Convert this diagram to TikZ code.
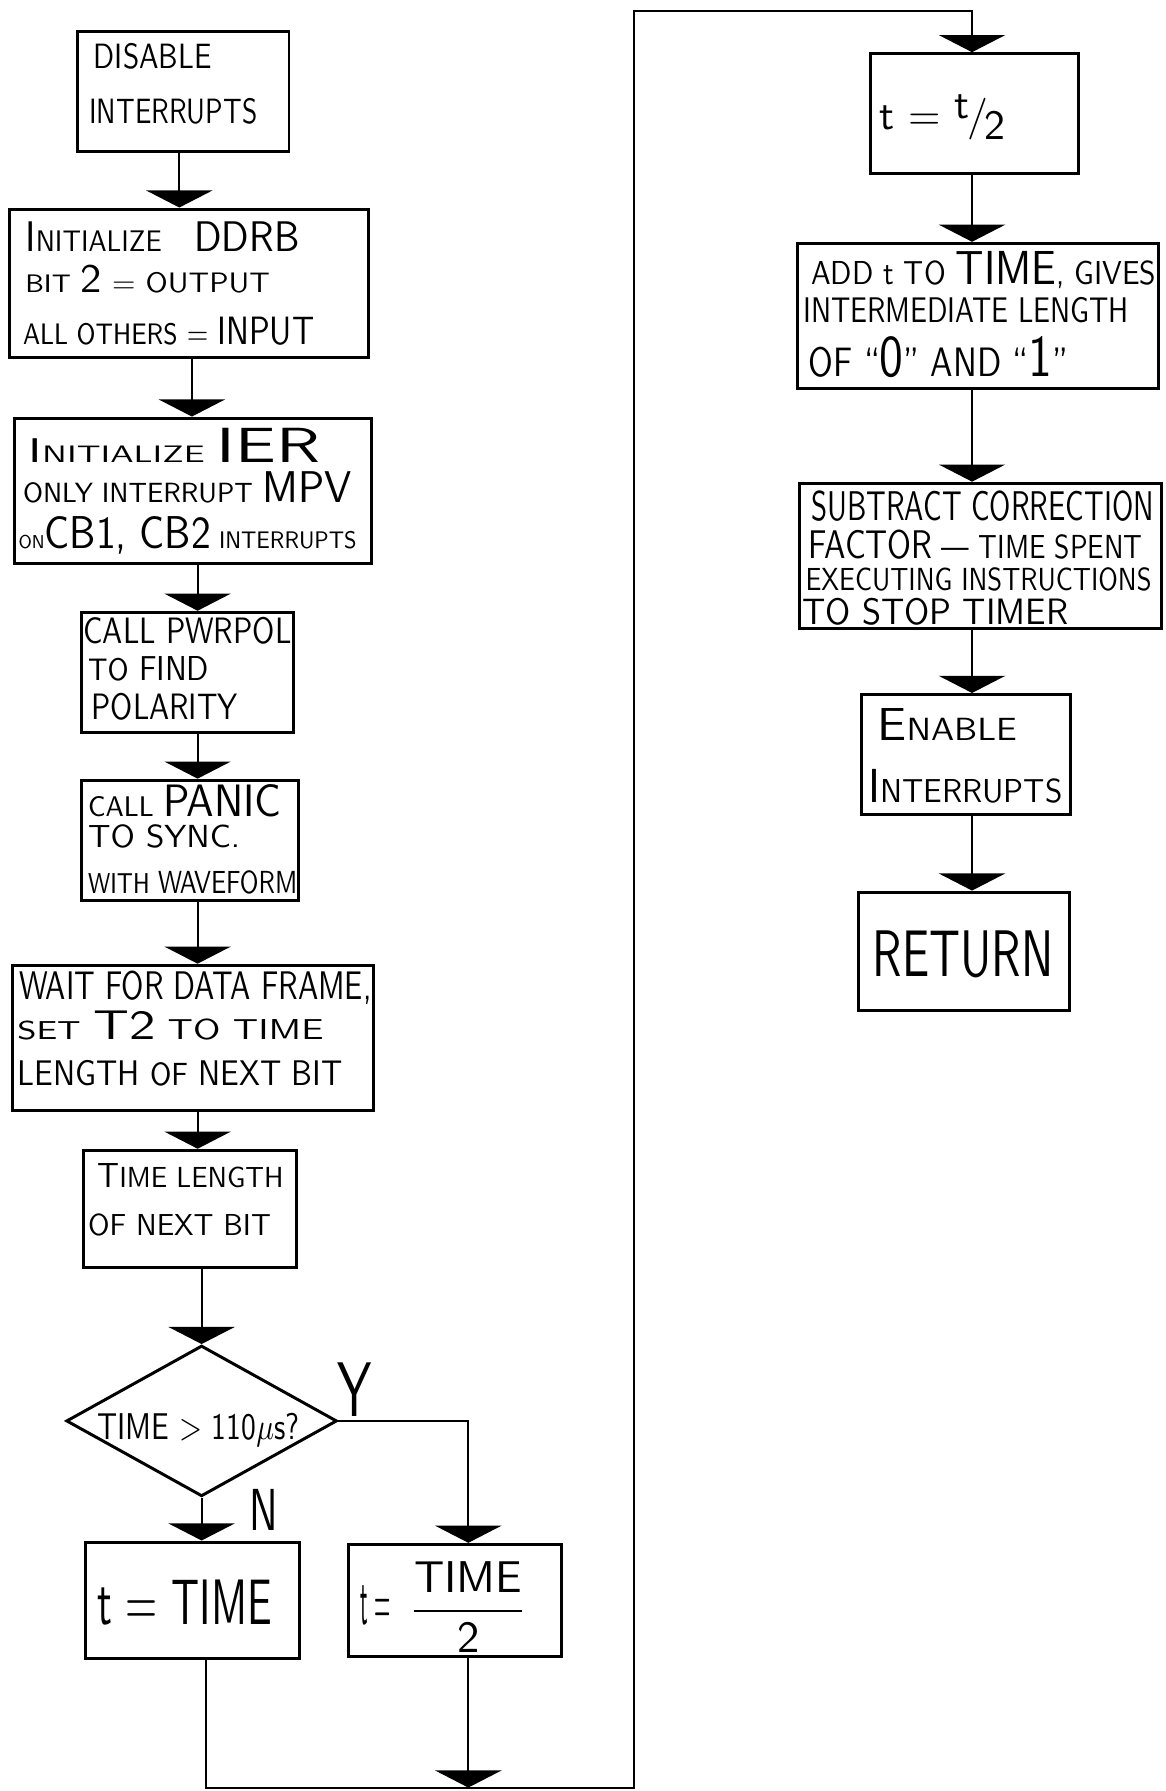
\documentclass[tikz,border=0pt]{standalone}
\usepackage{fontspec}
\usepackage{graphicx}
\usetikzlibrary{arrows.meta,shapes.geometric}
\newcommand{\hand}[6]{\node[lettering, anchor=base west] (#1) at (#2,#3) {\resizebox{#4pt}{#5pt}{#6}};}
\begin{document}
\begin{tikzpicture}[x=1pt,y=-1pt,
  box/.style={draw, rectangle, line width=2.6pt, inner sep=0pt},
  decision/.style={draw, diamond, line width=2.6pt, inner sep=0pt},
  conn/.style={line width=1.8pt},
  tri/.style={-{Triangle[width=58pt,length=15pt]}},
  lettering/.style={inner sep=0pt, font=\sffamily}]
\fill[white] (0,0) rectangle (1020,1568);
\useasboundingbox (0,0) rectangle (1020,1568);

% ---------- boxes ----------
\node[box, minimum width=185, minimum height=105] (b1) at (160.5,80.5) {};
\node[box, minimum width=315, minimum height=130] (b2) at (165.5,248) {};
\node[box, minimum width=312, minimum height=127] (b3) at (169,429.5) {};
\node[box, minimum width=186, minimum height=105] (b4) at (164,588.5) {};
\node[box, minimum width=190, minimum height=105] (b5) at (166,735.5) {};
\node[box, minimum width=316, minimum height=127] (b6) at (169,908.5) {};
\node[box, minimum width=187, minimum height=103] (b7) at (166.5,1058.5) {};
\node[decision, minimum width=237, minimum height=132] (dia) at (176.5,1244) {};
\node[box, minimum width=187, minimum height=102] (b8) at (168.5,1401) {};
\node[box, minimum width=187, minimum height=98] (b9) at (398.5,1401) {};
\node[box, minimum width=182, minimum height=105] (b10) at (853,99.5) {};
\node[box, minimum width=316, minimum height=127] (b11) at (856,276.5) {};
\node[box, minimum width=317, minimum height=127] (b12) at (858.5,486.5) {};
\node[box, minimum width=183, minimum height=105] (b13) at (845.5,660.5) {};
\node[box, minimum width=184, minimum height=104] (b14) at (844,833) {};

% ---------- lettering ----------
\hand{t1a}{82}{60}{103}{22}{DISABLE}
\hand{t1b}{78}{108}{147}{22}{INTERRUPTS}
\hand{t2a}{22}{220}{240}{26}{{\Large I}NITIALIZE\hspace{1.2em}{\Large DDRB}}
\hand{t2b}{22}{256}{214}{24}{{\small BIT} {\Large 2} = OUTPUT}
\hand{t2c}{20}{302}{255}{24}{{\small ALL OTHERS} = {\large INPUT}}
\hand{t3a}{25}{405}{255}{30}{{\Large I}NITIALIZE {\huge IER}}
\hand{t3b}{20}{440}{288}{27}{{\small ONLY INTERRUPT} {\Large MPV}}
\hand{t3c}{16}{480}{296}{28}{{\scriptsize ON}{\LARGE CB1, CB2} {\small INTERRUPTS}}
\hand{t4a}{73}{563}{182}{23}{CALL PWRPOL}
\hand{t4b}{77}{596}{106}{21}{{\small TO} FIND}
\hand{t4c}{80}{630}{128}{23}{POLARITY}
\hand{t5a}{77}{715}{169}{28}{{\small CALL} {\Large PANIC}}
\hand{t5b}{77}{742}{133}{20}{TO SYNC.}
\hand{t5c}{77}{782}{183}{20}{{\small WITH} WAVEFORM}
\hand{t6a}{17}{875}{308}{25}{WAIT FOR DATA FRAME,}
\hand{t6b}{15}{910}{268}{25}{{\small SET} {\Large T2} TO TIME}
\hand{t6c}{15}{950}{285}{22}{LENGTH {\small OF} NEXT BIT}
\hand{t7a}{85}{1040}{163}{21}{{\large T}IME LENGTH}
\hand{t7b}{77}{1082}{160}{19}{OF NEXT BIT}
\hand{td}{85}{1260}{177}{23}{TIME > 110$\mu$s?}
\hand{ly}{295}{1240}{30}{47}{Y}
\hand{ln}{218}{1340}{25}{36}{N}
\hand{t8}{85}{1422}{153}{39}{t = TIME}
\hand{t9}{315}{1422}{27}{34}{t =}
\node[lettering] (t9f) at (410,1407) {\resizebox{104pt}{!}{$\displaystyle\frac{\textsf{TIME}}{\textsf{2}}$}};
\node[lettering, anchor=west] (t10) at (770,103) {\resizebox{110pt}{!}{t = \raisebox{0.6ex}{t}\kern-0.05em/\kern-0.1em\raisebox{-0.5ex}{2}}};
\hand{t11a}{710}{249}{302}{29}{ADD t TO {\Large TIME}, GIVES}
\hand{t11b}{703}{282}{285}{22}{INTERMEDIATE LENGTH}
\hand{t11c}{708}{330}{227}{35}{OF “{\Large 0}” AND “{\Large 1}”}
\hand{t12a}{710}{456}{300}{26}{SUBTRACT CORRECTION}
\hand{t12b}{708}{489}{292}{25}{{\large FACTOR} — TIME SPENT}
\hand{t12c}{705}{517}{303}{20}{EXECUTING INSTRUCTIONS}
\hand{t12d}{702}{547}{233}{23}{TO STOP TIMER}
\hand{t13a}{768}{648}{122}{28}{{\Large E}NABLE}
\hand{t13b}{760}{703}{170}{29}{{\Large I}NTERRUPTS}
\hand{t14}{764}{855}{158}{40}{RETURN}

% ---------- connector guides ----------
\coordinate (xA) at (157,0);
\coordinate (xB) at (168,0);
\coordinate (xC) at (173,0);
\coordinate (xY) at (410,0);
\coordinate (xR) at (851,0);
\coordinate (lb) at (180,1565);
\coordinate (lr) at (555,1565);
\coordinate (lt) at (555,10);
\coordinate (rt) at (851,10);

% ---------- connectors ----------
\draw[conn,tri] (b1.south -| xA) -- (b2.north -| xA);
\draw[conn,tri] (b2.south -| xB) -- (b3.north -| xB);
\draw[conn,tri] (b3.south -| xC) -- (b4.north -| xC);
\draw[conn,tri] (b4.south -| xC) -- (b5.north -| xC);
\draw[conn,tri] (b5.south -| xC) -- (b6.north -| xC);
\draw[conn,tri] (b6.south -| xC) -- (b7.north -| xC);
\draw[conn,tri] (b7.south -| dia.north) -- (dia.north);
\draw[conn,tri] (dia.south) -- (b8.north -| dia.south);
\draw[conn,tri] (dia.east) -| (b9.north -| xY);
\draw[conn,tri] (b8.south -| lb) -- (lb) -- (lr) -- (lt) -- (rt) -- (b10.north -| rt);
\draw[conn,tri] (b9.south -| xY) -- (lb -| xY);
\draw[conn,tri] (b10.south -| xR) -- (b11.north -| xR);
\draw[conn,tri] (b11.south -| xR) -- (b12.north -| xR);
\draw[conn,tri] (b12.south -| xR) -- (b13.north -| xR);
\draw[conn,tri] (b13.south -| xR) -- (b14.north -| xR);
\end{tikzpicture}
\end{document}
